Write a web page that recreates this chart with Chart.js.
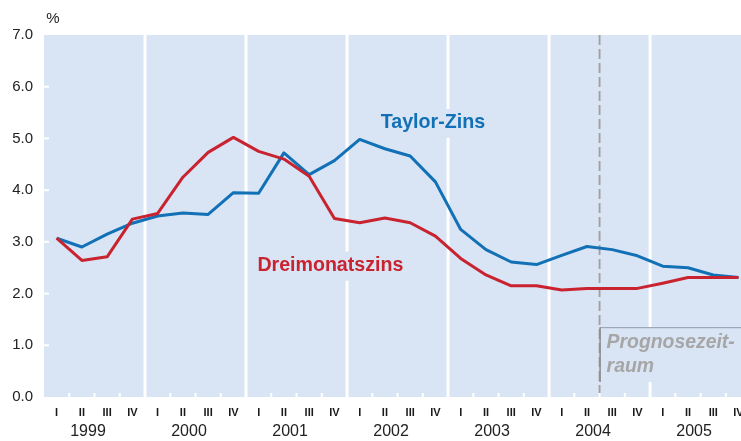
<!DOCTYPE html>
<html>
<head>
<meta charset="utf-8">
<script src="https://cdn.jsdelivr.net/npm/chart.js@4/dist/chart.umd.min.js"></script>
<style>
html,body{margin:0;padding:0;background:#fff;}
#wrap{width:741px;height:441px;position:relative;}
</style>
</head>
<body>
<div id="wrap"><canvas id="c" width="741" height="441"></canvas></div>
<script>
// ---- data ----
const years = ["1999","2000","2001","2002","2003","2004","2005"];
const quarterNames = ["I","II","III","IV"];
const taylorZins = [3.07,2.90,3.15,3.36, 3.50,3.56,3.53,3.95, 3.94,4.72,4.30,4.57,
                    4.98,4.80,4.66,4.16, 3.24,2.85,2.61,2.56, 2.74,2.91,2.85,2.73,
                    2.53,2.50,2.36,2.31];
const dreimonatszins = [3.07,2.64,2.71,3.44, 3.55,4.25,4.73,5.02, 4.75,4.60,4.27,3.45,
                        3.37,3.46,3.37,3.11, 2.68,2.36,2.15,2.15, 2.07,2.10,2.10,2.10,
                        2.20,2.31,2.31,2.31];
const yTicks = [0,1,2,3,4,5,6,7];
const seriesLabels = ["Taylor-Zins","Dreimonatszins"];
const forecastLabel = ["Prognosezeit-","raum"];
const forecastStart = 22; // quarters from start (2004 Q3)

const BG = '#d9e4f4';
const BLUE = '#1170b6';
const RED = '#c8232f';

const toPts = arr => arr.map((v,i)=>({x:i+0.5,y:v}));

const deco = {
  id:'deco',
  beforeDatasetsDraw(chart){
    const {ctx, chartArea:a, scales:{x,y}} = chart;
    ctx.save();
    ctx.fillStyle = BG;
    ctx.fillRect(a.left, a.top, a.right-a.left, a.bottom-a.top);
    ctx.strokeStyle = '#ffffff';
    ctx.lineWidth = 2;
    for (let q=1;q<28;q++){
      if (q%4===0) continue;
      const px = x.getPixelForValue(q);
      ctx.beginPath(); ctx.moveTo(px, a.bottom-4); ctx.lineTo(px, a.bottom); ctx.stroke();
    }
    yTicks.forEach(v=>{
      if (v===0||v===7) return;
      const py = y.getPixelForValue(v);
      ctx.beginPath(); ctx.moveTo(a.left, py); ctx.lineTo(a.left+5, py); ctx.stroke();
    });
    ctx.lineWidth = 3;
    for (let k=1;k<years.length;k++){
      const px = x.getPixelForValue(4*k);
      ctx.beginPath(); ctx.moveTo(px, a.top); ctx.lineTo(px, a.bottom); ctx.stroke();
    }
    // forecast box (covers year line)
    const fx = x.getPixelForValue(forecastStart);
    const by1 = y.getPixelForValue(1.35), by2 = y.getPixelForValue(0.29);
    ctx.fillStyle = BG;
    ctx.fillRect(fx, by1, a.right-fx, by2-by1);
    // dashed line
    ctx.strokeStyle = '#a0a0a0';
    ctx.lineWidth = 1.8;
    ctx.setLineDash([10,4]);
    ctx.beginPath(); ctx.moveTo(fx, a.top); ctx.lineTo(fx, a.bottom-4); ctx.stroke();
    ctx.setLineDash([]);
    ctx.strokeStyle = '#8f9cae';
    ctx.lineWidth = 1;
    ctx.beginPath(); ctx.moveTo(a.right, by1+0.5); ctx.lineTo(fx+0.5, by1+0.5); ctx.stroke();
    ctx.lineWidth = 1.5;
    ctx.strokeStyle = '#8a8a8a';
    ctx.beginPath(); ctx.moveTo(fx+0.5, by1); ctx.lineTo(fx+0.5, by2); ctx.stroke();
    ctx.font = 'italic bold 19.4px "Liberation Sans", Arial, sans-serif';
    ctx.fillStyle = '#a6a6a6';
    ctx.textAlign = 'left'; ctx.textBaseline = 'alphabetic';
    ctx.fillText(forecastLabel[0], fx+7, by1+21);
    ctx.fillText(forecastLabel[1], fx+7, by1+45);
    // series labels with background
    const lab = (txt, col, size, xv, yv) => {
      ctx.font = 'bold '+size+'px "Liberation Sans", Arial, sans-serif';
      const w = ctx.measureText(txt).width;
      const px = x.getPixelForValue(xv), py = y.getPixelForValue(yv);
      ctx.fillStyle = BG;
      ctx.fillRect(px-4, py-14, w+8, 29);
      ctx.fillStyle = col;
      ctx.textBaseline = 'middle';
      ctx.fillText(txt, px, py);
    };
    lab(seriesLabels[0], BLUE, 19.7, 13.33, 5.30);
    lab(seriesLabels[1], RED, 19.6, 8.45, 2.54);
    ctx.restore();
  },
  afterDraw(chart){
    const {ctx, chartArea:a, scales:{x}} = chart;
    ctx.save();
    ctx.fillStyle = '#1a1a1a';
    ctx.textAlign = 'center'; ctx.textBaseline = 'middle';
    ctx.font = 'bold 11px "Liberation Sans", Arial, sans-serif';
    for (let q=0;q<28;q++){
      ctx.fillText(quarterNames[q%4], x.getPixelForValue(q+0.5), a.bottom+16);
    }
    ctx.font = '16px "Liberation Sans", Arial, sans-serif';
    ctx.fillStyle = '#222';
    years.forEach((yr,k)=>{
      ctx.fillText(yr, x.getPixelForValue(4*k)+44, a.bottom+35);
    });
    ctx.font = '15px "Liberation Sans", Arial, sans-serif';
    ctx.textAlign = 'center';
    ctx.fillText('%', a.left+9, 19);
    ctx.restore();
  }
};

new Chart(document.getElementById('c'), {
  type:'line',
  data:{
    datasets:[
      {label:seriesLabels[1], data:toPts(dreimonatszins), borderColor:RED, borderWidth:3, pointRadius:0, tension:0, borderJoinStyle:'round'},
      {label:seriesLabels[0], data:toPts(taylorZins), borderColor:BLUE, borderWidth:3, pointRadius:0, tension:0, borderJoinStyle:'round'}
    ]
  },
  options:{
    responsive:false,
    animation:false,
    devicePixelRatio:1,
    layout:{padding:{top:35,bottom:44,left:0,right:0}},
    plugins:{legend:{display:false},tooltip:{enabled:false}},
    scales:{
      x:{type:'linear',min:0,max:27.6,display:false},
      y:{min:0,max:7,
         afterFit(s){s.width=44;},
         afterBuildTicks(s){s.ticks = yTicks.map(v=>({value:v}));},
         grid:{display:false,drawTicks:false},
         border:{display:false},
         ticks:{padding:11,color:'#222',font:{family:'"Liberation Sans", Arial, sans-serif',size:15},
                callback:v=>v.toFixed(1)}
      }
    }
  },
  plugins:[deco]
});
</script>
</body>
</html>
